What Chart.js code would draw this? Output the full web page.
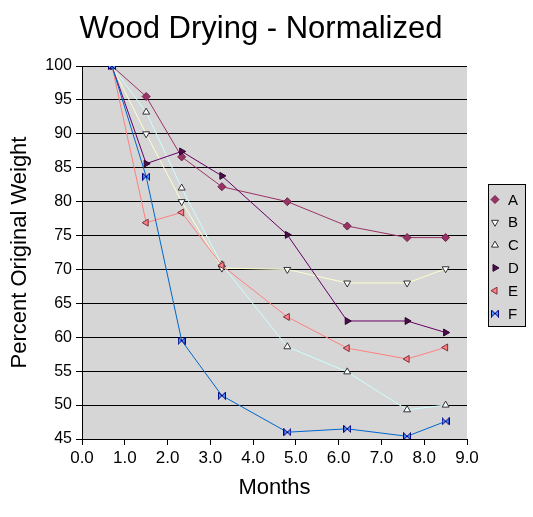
<!DOCTYPE html>
<html>
<head>
<meta charset="utf-8">
<script src="https://cdn.jsdelivr.net/npm/chart.js@4.4.1/dist/chart.umd.min.js"></script>
<style>
    html, body { margin: 0; padding: 0; background: #fff; }
    #wrap { width: 533px; height: 517px; position: relative; }
</style>
</head>
<body>
<div id="wrap"><canvas id="dryChart"></canvas></div>
<script>
// months since cutting, and weight as percent of the original
const months = [0.7, 1.5, 2.33, 3.27, 4.8, 6.2, 7.6, 8.5];
const seriesNames = ['A', 'B', 'C', 'D', 'E', 'F'];
const woodA = [100, 95.5, 86.6, 82.2, 80.0, 76.4, 74.7, 74.7];
const woodB = [100, 90.0, 80.0, 70.2, 70.0, 68.0, 68.0, 70.1];
const woodC = [100, 93.2, 82.0, 70.7, 58.6, 54.9, 49.3, 50.0];
const woodD = [100, 85.6, 87.4, 83.8, 75.1, 62.4, 62.4, 60.7];
const woodE = [100, 76.9, 78.4, 70.6, 63.0, 58.4, 56.8, 58.5];
const woodF = [100, 83.7, 59.5, 51.4, 46.0, 46.5, 45.4, 47.6];
const yMin = 45, yMax = 100, yStep = 5;
const xMin = 0, xMax = 9, xStep = 1;

const FONT = '"Liberation Sans", Arial, sans-serif';

function bowtie(fill, stroke) {
    const c = document.createElement('canvas');
    c.width = 8; c.height = 8;
    const g = c.getContext('2d');
    g.beginPath();
    g.moveTo(0.5, 0.5); g.lineTo(4, 4); g.lineTo(0.5, 7.5); g.closePath();
    g.moveTo(7.5, 0.5); g.lineTo(4, 4); g.lineTo(7.5, 7.5); g.closePath();
    g.fillStyle = fill; g.fill();
    g.strokeStyle = stroke; g.lineWidth = 1; g.stroke();
    return c;
}

const styles = [
    { line: '#993366', fill: '#993366', edge: '#6e2448', point: 'rectRot', rot: 0, r: 4 },
    { line: '#FFFFCC', fill: '#ffffff', edge: '#333333', point: 'triangle', rot: 180, r: 4 },
    { line: '#CCFFFF', fill: '#ffffff', edge: '#333333', point: 'triangle', rot: 0, r: 4 },
    { line: '#660066', fill: '#4a0f4a', edge: '#2a002a', point: 'triangle', rot: 90, r: 4 },
    { line: '#FF8080', fill: '#ff8080', edge: '#7a3040', point: 'triangle', rot: -90, r: 4 },
    { line: '#0066CC', fill: '#4d94ff', edge: '#000080', point: bowtie('#4d94ff', '#000080'), rot: 0, r: 4 }
];

const allSeries = [woodA, woodB, woodC, woodD, woodE, woodF];

const data = {
    datasets: allSeries.map((vals, i) => ({
        label: seriesNames[i],
        data: months.map((m, k) => ({ x: m, y: vals[k] })),
        showLine: true,
        borderColor: styles[i].line,
        borderWidth: 1,
        pointStyle: styles[i].point,
        pointRotation: styles[i].rot,
        pointRadius: styles[i].r,
        pointBackgroundColor: styles[i].fill,
        pointBorderColor: styles[i].edge,
        pointBorderWidth: 1,
        order: 6 - i
    }))
};

// grey plot area, title and boxed legend
const decor = {
    id: 'decor',
    beforeDraw(chart) {
        const a = chart.chartArea, ctx = chart.ctx;
        ctx.save();
        ctx.fillStyle = '#d6d6d6';
        ctx.fillRect(a.left, a.top, a.right - a.left, a.bottom - a.top);
        ctx.restore();
    },
    afterDraw(chart) {
        const ctx = chart.ctx;
        ctx.save();
        ctx.fillStyle = '#000';
        ctx.font = '31px ' + FONT;
        ctx.textAlign = 'center';
        ctx.textBaseline = 'alphabetic';
        ctx.fillText('Wood Drying - Normalized', 261, 38);

        // legend
        ctx.fillStyle = '#d6d6d6';
        ctx.fillRect(488.5, 184.5, 37, 142);
        ctx.strokeStyle = '#000';
        ctx.lineWidth = 1;
        ctx.strokeRect(488.5, 184.5, 37, 142);
        ctx.font = '15px ' + FONT;
        ctx.textAlign = 'left';
        ctx.textBaseline = 'middle';
        chart.data.datasets.forEach((ds, i) => {
            const y = 199.5 + i * 22.8;
            ctx.fillStyle = ds.pointBackgroundColor;
            ctx.strokeStyle = ds.pointBorderColor;
            ctx.lineWidth = 1;
            Chart.helpers.drawPoint(ctx, {
                pointStyle: ds.pointStyle,
                rotation: ds.pointRotation,
                radius: ds.pointRadius,
                borderWidth: 1
            }, 495, y);
            ctx.fillStyle = '#000';
            ctx.fillText(ds.label, 508, y + 1);
        });
        ctx.restore();
    }
};

const options = {
    responsive: true,
    maintainAspectRatio: false,
    animation: false,
    layout: { padding: { top: 66, right: 66, left: 0, bottom: 0 } },
    plugins: {
        legend: { display: false },
        tooltip: { enabled: false },
        title: { display: false }
    },
    scales: {
        x: {
            type: 'linear',
            min: xMin,
            max: xMax,
            ticks: {
                stepSize: xStep,
                autoSkip: false,
                maxRotation: 0,
                color: '#000',
                padding: 3,
                font: { family: FONT, size: 17 },
                callback: v => Number(v).toFixed(1)
            },
            grid: { drawOnChartArea: false, drawTicks: true, tickLength: 6, color: '#000' },
            border: { color: '#000' },
            title: {
                display: true,
                text: 'Months',
                color: '#000',
                font: { family: FONT, size: 22 },
                padding: { top: 0, bottom: 16 }
            },
            afterFit: s => { s.height = 78; }
        },
        y: {
            min: yMin,
            max: yMax,
            ticks: {
                stepSize: yStep,
                color: '#000',
                padding: 4,
                font: { family: FONT, size: 16 }
            },
            grid: { color: '#000', tickLength: 6 },
            border: { color: '#000' },
            title: {
                display: true,
                text: 'Percent Original Weight',
                color: '#000',
                font: { family: FONT, size: 22 },
                padding: { top: 7, bottom: 0 }
            },
            afterFit: s => { s.width = 82; }
        }
    }
};

const ctx = document.getElementById('dryChart').getContext('2d');
const dryChart = new Chart(ctx, {
    type: 'scatter',
    data: data,
    options: options,
    plugins: [decor]
});
</script>
</body>
</html>
